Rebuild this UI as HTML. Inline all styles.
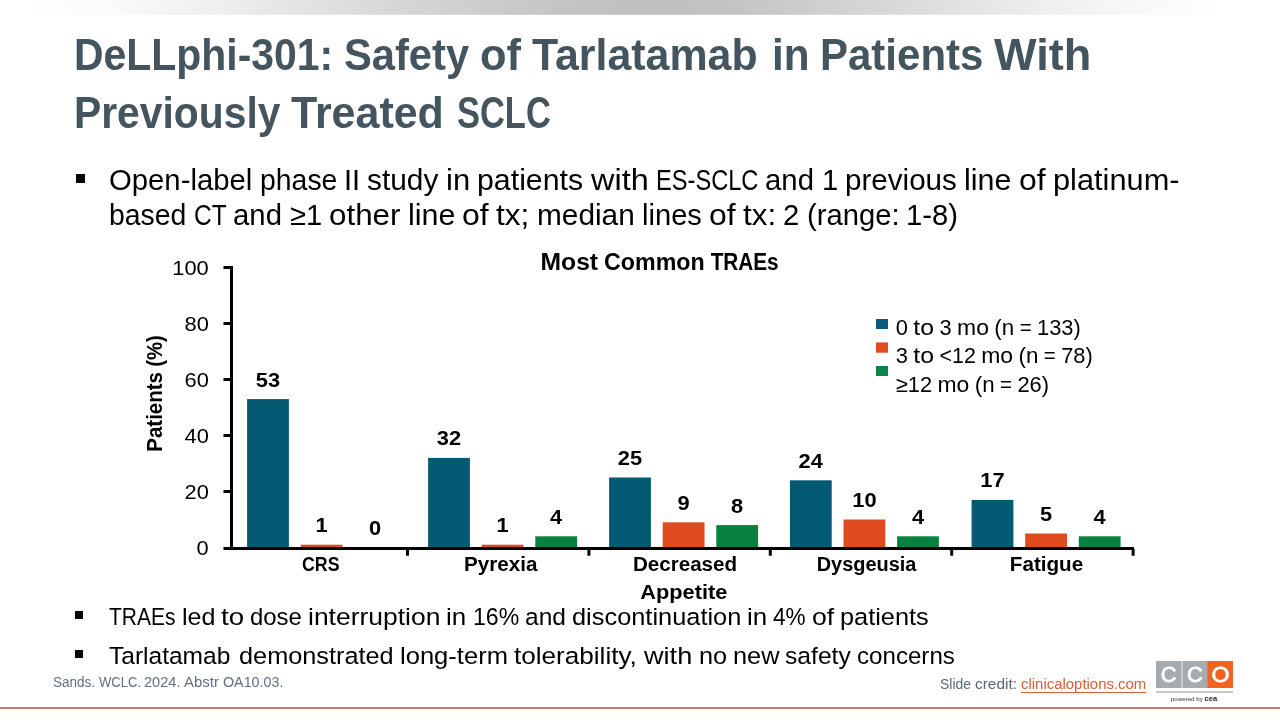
<!DOCTYPE html>
<html lang="en"><head><meta charset="utf-8">
<title>DeLLphi-301: Safety of Tarlatamab in Patients With Previously Treated SCLC</title>
<style>
html,body{margin:0;padding:0;background:#fff;}
body{width:1280px;height:720px;overflow:hidden;font-family:"Liberation Sans", sans-serif;color:#000;}
#slide{position:relative;width:1280px;height:720px;overflow:hidden;background:#fff;}
.topbar{position:absolute;left:0;top:0;width:1280px;height:14px;background:linear-gradient(90deg,#fff 0,#fff 1.6%,#fbfbfb 8%,#f0f0f0 16%,#d7d7d7 31%,#c4c4c4 44%,#c0c0c0 50%,#c2c2c2 56%,#d9d9d9 70%,#e8e8e8 78%,#f5f5f5 86%,#fff 95.5%,#fff 100%);}
.topbar:after{content:"";position:absolute;left:0;top:14px;width:1280px;height:1px;background:inherit;opacity:.8;}
h1,ul,li,p,figure{margin:0;padding:0;list-style:none;font-weight:normal;}
.t{position:absolute;display:block;white-space:nowrap;}
.w{display:inline-block;white-space:pre;vertical-align:baseline;}
.g{display:inline-block;transform-origin:0 50%;}
.bul{position:absolute;background:#000;display:block;}
svg{position:absolute;left:0;top:0;}
svg text{font-family:"Liberation Sans", sans-serif;white-space:pre;}
a{color:#d4603c;text-decoration:underline;text-decoration-thickness:1px;text-underline-offset:3px;text-decoration-skip-ink:none;}
.rule{position:absolute;left:0;top:707px;width:1280px;height:2px;background:#c8806d;}
</style></head><body>
<div id="slide">
<div class="topbar"></div>
<h1><span class="t" style="left:74.00px;top:30.00px;font-size:44.16px;line-height:49px;height:49px;font-weight:700;color:#44555f;"><span class="w" style="width:270.09px"><span class="g" style="transform:scaleX(0.9269)">DeLLphi-301:</span> </span><span class="w" style="width:135.97px"><span class="g" style="transform:scaleX(0.9439)">Safety</span> </span><span class="w" style="width:51.84px"><span class="g" style="transform:scaleX(0.9835)">of</span> </span><span class="w" style="width:239.69px"><span class="g" style="transform:scaleX(0.9713)">Tarlatamab</span> </span><span class="w" style="width:48.41px"><span class="g" style="transform:scaleX(0.9566)">in</span> </span><span class="w" style="width:174.23px"><span class="g" style="transform:scaleX(0.9512)">Patients</span> </span><span class="w" style="width:97.69px"><span class="g" style="transform:scaleX(1.0216)">With</span></span></span>
<span class="t" style="left:74.00px;top:88.00px;font-size:44.16px;line-height:49px;height:49px;font-weight:700;color:#44555f;"><span class="w" style="width:217.36px"><span class="g" style="transform:scaleX(0.9246)">Previously</span> </span><span class="w" style="width:166.11px"><span class="g" style="transform:scaleX(0.9733)">Treated</span> </span><span class="w" style="width:93.80px"><span class="g" style="transform:scaleX(0.7803)">SCLC</span></span></span></h1>
<ul>
<li><i class="bul" style="left:76px;top:174px;width:9px;height:9px"></i><span class="t" style="left:109.00px;top:163.00px;font-size:29.44px;line-height:33px;height:33px;"><span class="w" style="width:150.52px"><span class="g" style="transform:scaleX(0.9949)">Open-label</span> </span><span class="w" style="width:84.62px"><span class="g" style="transform:scaleX(0.9647)">phase</span> </span><span class="w" style="width:23.36px"><span class="g" style="transform:scaleX(0.9857)">II</span> </span><span class="w" style="width:78.58px"><span class="g" style="transform:scaleX(1.0138)">study</span> </span><span class="w" style="width:31.39px"><span class="g" style="transform:scaleX(1.0539)">in</span> </span><span class="w" style="width:113.41px"><span class="g" style="transform:scaleX(1.0297)">patients</span> </span><span class="w" style="width:64.98px"><span class="g" style="transform:scaleX(1.1030)">with</span> </span><span class="w" style="width:109.64px"><span class="g" style="transform:scaleX(0.8025)">ES-SCLC</span> </span><span class="w" style="width:56.19px"><span class="g" style="transform:scaleX(0.9965)">and</span> </span><span class="w" style="width:23.45px"><span class="g" style="transform:scaleX(0.9905)">1</span> </span><span class="w" style="width:119.12px"><span class="g" style="transform:scaleX(1.0055)">previous</span> </span><span class="w" style="width:54.66px"><span class="g" style="transform:scaleX(1.0348)">line</span> </span><span class="w" style="width:33.88px"><span class="g" style="transform:scaleX(1.0846)">of</span> </span><span class="w" style="width:126.53px"><span class="g" style="transform:scaleX(1.0450)">platinum-</span></span></span>
<span class="t" style="left:109.00px;top:197.61px;font-size:29.44px;line-height:33px;height:33px;"><span class="w" style="width:84.62px"><span class="g" style="transform:scaleX(0.9647)">based</span> </span><span class="w" style="width:39.89px"><span class="g" style="transform:scaleX(0.8320)">CT</span> </span><span class="w" style="width:56.19px"><span class="g" style="transform:scaleX(0.9965)">and</span> </span><span class="w" style="width:39.39px"><span class="g" style="transform:scaleX(0.9885)">≥1</span> </span><span class="w" style="width:78.72px"><span class="g" style="transform:scaleX(1.0652)">other</span> </span><span class="w" style="width:54.66px"><span class="g" style="transform:scaleX(1.0348)">line</span> </span><span class="w" style="width:33.88px"><span class="g" style="transform:scaleX(1.0846)">of</span> </span><span class="w" style="width:40.38px"><span class="g" style="transform:scaleX(1.0664)">tx;</span> </span><span class="w" style="width:105.02px"><span class="g" style="transform:scaleX(1.0126)">median</span> </span><span class="w" style="width:67.17px"><span class="g" style="transform:scaleX(0.9899)">lines</span> </span><span class="w" style="width:33.88px"><span class="g" style="transform:scaleX(1.0846)">of</span> </span><span class="w" style="width:40.38px"><span class="g" style="transform:scaleX(1.0664)">tx:</span> </span><span class="w" style="width:23.45px"><span class="g" style="transform:scaleX(0.9905)">2</span> </span><span class="w" style="width:99.78px"><span class="g" style="transform:scaleX(0.9921)">(range:</span> </span><span class="w" style="width:51.94px"><span class="g" style="transform:scaleX(0.9919)">1-8)</span></span></span></li>
</ul>
<figure>
<svg width="1280" height="720" viewBox="0 0 1280 720" xmlns="http://www.w3.org/2000/svg" role="img" aria-label="Most Common TRAEs bar chart">
<rect x="247.10" y="399.10" width="41.8" height="148.40" fill="#045973"/>
<rect x="300.70" y="544.70" width="41.8" height="2.80" fill="#df4a1f"/>
<rect x="428.10" y="457.90" width="41.8" height="89.60" fill="#045973"/>
<rect x="481.70" y="544.70" width="41.8" height="2.80" fill="#df4a1f"/>
<rect x="535.30" y="536.30" width="41.8" height="11.20" fill="#07813f"/>
<rect x="609.10" y="477.50" width="41.8" height="70.00" fill="#045973"/>
<rect x="662.70" y="522.30" width="41.8" height="25.20" fill="#df4a1f"/>
<rect x="716.30" y="525.10" width="41.8" height="22.40" fill="#07813f"/>
<rect x="789.90" y="480.30" width="41.8" height="67.20" fill="#045973"/>
<rect x="843.50" y="519.50" width="41.8" height="28.00" fill="#df4a1f"/>
<rect x="897.10" y="536.30" width="41.8" height="11.20" fill="#07813f"/>
<rect x="971.60" y="499.90" width="41.8" height="47.60" fill="#045973"/>
<rect x="1025.20" y="533.50" width="41.8" height="14.00" fill="#df4a1f"/>
<rect x="1078.80" y="536.30" width="41.8" height="11.20" fill="#07813f"/>
<rect x="230" y="266" width="3" height="284" fill="#000"/>
<rect x="223.5" y="547" width="910.5" height="3" fill="#000"/>
<rect x="223.5" y="490.00" width="8" height="3" fill="#000"/>
<rect x="223.5" y="434.00" width="8" height="3" fill="#000"/>
<rect x="223.5" y="378.00" width="8" height="3" fill="#000"/>
<rect x="223.5" y="322.00" width="8" height="3" fill="#000"/>
<rect x="223.5" y="266.00" width="8" height="3" fill="#000"/>
<rect x="406.00" y="549" width="3" height="6.7" fill="#000"/>
<rect x="587.40" y="549" width="3" height="6.7" fill="#000"/>
<rect x="768.80" y="549" width="3" height="6.7" fill="#000"/>
<rect x="950.20" y="549" width="3" height="6.7" fill="#000"/>
<rect x="1131.60" y="549" width="3" height="6.7" fill="#000"/>
<text x="196.64" y="554.75" font-size="20.42" textLength="12.16" lengthAdjust="spacingAndGlyphs">0</text>
<text x="184.48" y="498.75" font-size="20.42" textLength="24.32" lengthAdjust="spacingAndGlyphs">20</text>
<text x="184.48" y="442.75" font-size="20.42" textLength="24.32" lengthAdjust="spacingAndGlyphs">40</text>
<text x="184.48" y="386.75" font-size="20.42" textLength="24.32" lengthAdjust="spacingAndGlyphs">60</text>
<text x="184.48" y="330.75" font-size="20.42" textLength="24.32" lengthAdjust="spacingAndGlyphs">80</text>
<text x="172.31" y="274.75" font-size="20.42" textLength="36.49" lengthAdjust="spacingAndGlyphs">100</text>
<text y="270.00" font-size="23.92" font-weight="700"><tspan x="540.54" textLength="57.54" lengthAdjust="spacingAndGlyphs">Most</tspan> <tspan x="604.10" textLength="100.51" lengthAdjust="spacingAndGlyphs">Common</tspan> <tspan x="710.64" textLength="68.04" lengthAdjust="spacingAndGlyphs">TRAEs</tspan></text>
<text y="393.40" font-size="21.53" font-weight="700" transform="rotate(-90 161.70 393.40)"><tspan x="103.43" textLength="79.62" lengthAdjust="spacingAndGlyphs">Patients</tspan> <tspan x="188.34" textLength="31.64" lengthAdjust="spacingAndGlyphs">(%)</tspan></text>
<text x="302.02" y="570.60" font-size="20.42" font-weight="700" textLength="37.55" lengthAdjust="spacingAndGlyphs">CRS</text>
<text x="464.05" y="570.60" font-size="20.42" font-weight="700" textLength="73.50" lengthAdjust="spacingAndGlyphs">Pyrexia</text>
<text x="632.90" y="570.60" font-size="20.42" font-weight="700" textLength="104.21" lengthAdjust="spacingAndGlyphs">Decreased</text>
<text x="640.32" y="599.40" font-size="20.42" font-weight="700" textLength="86.96" lengthAdjust="spacingAndGlyphs">Appetite</text>
<text x="816.66" y="570.60" font-size="20.42" font-weight="700" textLength="99.68" lengthAdjust="spacingAndGlyphs">Dysgeusia</text>
<text x="1009.81" y="570.60" font-size="20.42" font-weight="700" textLength="73.38" lengthAdjust="spacingAndGlyphs">Fatigue</text>
<text x="255.84" y="386.60" font-size="20.42" font-weight="700" textLength="24.32" lengthAdjust="spacingAndGlyphs">53</text>
<text x="315.52" y="532.20" font-size="20.42" font-weight="700" textLength="12.16" lengthAdjust="spacingAndGlyphs">1</text>
<text x="369.12" y="535.00" font-size="20.42" font-weight="700" textLength="12.16" lengthAdjust="spacingAndGlyphs">0</text>
<text x="436.84" y="445.40" font-size="20.42" font-weight="700" textLength="24.32" lengthAdjust="spacingAndGlyphs">32</text>
<text x="496.52" y="532.20" font-size="20.42" font-weight="700" textLength="12.16" lengthAdjust="spacingAndGlyphs">1</text>
<text x="550.12" y="523.80" font-size="20.42" font-weight="700" textLength="12.16" lengthAdjust="spacingAndGlyphs">4</text>
<text x="617.84" y="465.00" font-size="20.42" font-weight="700" textLength="24.32" lengthAdjust="spacingAndGlyphs">25</text>
<text x="677.52" y="509.80" font-size="20.42" font-weight="700" textLength="12.16" lengthAdjust="spacingAndGlyphs">9</text>
<text x="731.12" y="512.60" font-size="20.42" font-weight="700" textLength="12.16" lengthAdjust="spacingAndGlyphs">8</text>
<text x="798.64" y="467.80" font-size="20.42" font-weight="700" textLength="24.32" lengthAdjust="spacingAndGlyphs">24</text>
<text x="852.24" y="507.00" font-size="20.42" font-weight="700" textLength="24.32" lengthAdjust="spacingAndGlyphs">10</text>
<text x="911.92" y="523.80" font-size="20.42" font-weight="700" textLength="12.16" lengthAdjust="spacingAndGlyphs">4</text>
<text x="980.34" y="487.40" font-size="20.42" font-weight="700" textLength="24.32" lengthAdjust="spacingAndGlyphs">17</text>
<text x="1040.02" y="521.00" font-size="20.42" font-weight="700" textLength="12.16" lengthAdjust="spacingAndGlyphs">5</text>
<text x="1093.62" y="523.80" font-size="20.42" font-weight="700" textLength="12.16" lengthAdjust="spacingAndGlyphs">4</text>
<rect x="876" y="319" width="12" height="10" fill="#0b5a80"/>
<rect x="876" y="342.4" width="12" height="10.3" fill="#e24c23"/>
<rect x="876" y="366" width="12" height="10" fill="#0b8549"/>
<text y="334.75" font-size="22.08"><tspan x="895.80" textLength="12.17" lengthAdjust="spacingAndGlyphs">0</tspan> <tspan x="913.39" textLength="20.70" lengthAdjust="spacingAndGlyphs">to</tspan> <tspan x="939.52" textLength="12.17" lengthAdjust="spacingAndGlyphs">3</tspan> <tspan x="957.11" textLength="31.83" lengthAdjust="spacingAndGlyphs">mo</tspan> <tspan x="994.36" textLength="19.89" lengthAdjust="spacingAndGlyphs">(n</tspan> <tspan x="1019.67" textLength="11.95" lengthAdjust="spacingAndGlyphs">=</tspan> <tspan x="1037.05" textLength="43.78" lengthAdjust="spacingAndGlyphs">133)</tspan></text>
<text y="363.40" font-size="22.08"><tspan x="895.80" textLength="12.17" lengthAdjust="spacingAndGlyphs">3</tspan> <tspan x="913.39" textLength="20.70" lengthAdjust="spacingAndGlyphs">to</tspan> <tspan x="939.52" textLength="36.28" lengthAdjust="spacingAndGlyphs">&lt;12</tspan> <tspan x="981.22" textLength="31.83" lengthAdjust="spacingAndGlyphs">mo</tspan> <tspan x="1018.47" textLength="19.89" lengthAdjust="spacingAndGlyphs">(n</tspan> <tspan x="1043.78" textLength="11.95" lengthAdjust="spacingAndGlyphs">=</tspan> <tspan x="1061.17" textLength="31.61" lengthAdjust="spacingAndGlyphs">78)</tspan></text>
<text y="392.10" font-size="22.08"><tspan x="895.80" textLength="36.28" lengthAdjust="spacingAndGlyphs">≥12</tspan> <tspan x="937.52" textLength="31.83" lengthAdjust="spacingAndGlyphs">mo</tspan> <tspan x="974.77" textLength="19.89" lengthAdjust="spacingAndGlyphs">(n</tspan> <tspan x="1000.08" textLength="11.95" lengthAdjust="spacingAndGlyphs">=</tspan> <tspan x="1017.46" textLength="31.61" lengthAdjust="spacingAndGlyphs">26)</tspan></text>
<rect x="1156" y="661" width="52" height="27" fill="#a5abae"/>
<rect x="1181" y="661" width="2" height="27" fill="#c6cbcd"/>
<rect x="1207.5" y="661" width="25.5" height="27" fill="#f26322"/>
<rect x="1156" y="691" width="77" height="2" fill="#c5c9cb"/>
<text x="1168.60" y="682.30" font-size="22.82" textLength="15.80" lengthAdjust="spacingAndGlyphs" text-anchor="middle" fill="#fff" stroke="#fff" stroke-width="0.8">C</text>
<text x="1194.80" y="682.30" font-size="22.82" textLength="15.80" lengthAdjust="spacingAndGlyphs" text-anchor="middle" fill="#fff" stroke="#fff" stroke-width="0.8">C</text>
<text x="1220.40" y="682.30" font-size="22.82" textLength="18.00" lengthAdjust="spacingAndGlyphs" text-anchor="middle" fill="#fff" stroke="#fff" stroke-width="0.8">O</text>
<text x="1170.80" y="701.40" font-size="5.87" textLength="32.00" lengthAdjust="spacingAndGlyphs" fill="#333">powered by</text>
<text x="1204.60" y="701.40" font-size="7.39" textLength="12.60" lengthAdjust="spacingAndGlyphs" font-weight="700" fill="#222">cea</text>
</svg>
</figure>
<ul>
<li><i class="bul" style="left:75px;top:611px;width:8px;height:8px"></i><span class="t" style="left:109.00px;top:602.75px;font-size:24.54px;line-height:27px;height:27px;"><span class="w" style="width:72.52px"><span class="g" style="transform:scaleX(0.8562)">TRAEs</span> </span><span class="w" style="width:39.51px"><span class="g" style="transform:scaleX(1.0228)">led</span> </span><span class="w" style="width:29.06px"><span class="g" style="transform:scaleX(1.1270)">to</span> </span><span class="w" style="width:57.91px"><span class="g" style="transform:scaleX(0.9757)">dose</span> </span><span class="w" style="width:138.35px"><span class="g" style="transform:scaleX(1.0788)">interruption</span> </span><span class="w" style="width:26.20px"><span class="g" style="transform:scaleX(1.0563)">in</span> </span><span class="w" style="width:52.22px"><span class="g" style="transform:scaleX(0.9409)">16%</span> </span><span class="w" style="width:46.90px"><span class="g" style="transform:scaleX(0.9991)">and</span> </span><span class="w" style="width:175.23px"><span class="g" style="transform:scaleX(1.0345)">discontinuation</span> </span><span class="w" style="width:26.21px"><span class="g" style="transform:scaleX(1.0563)">in</span> </span><span class="w" style="width:38.68px"><span class="g" style="transform:scaleX(0.9213)">4%</span> </span><span class="w" style="width:28.28px"><span class="g" style="transform:scaleX(1.0879)">of</span> </span><span class="w" style="width:88.63px"><span class="g" style="transform:scaleX(1.0323)">patients</span></span></span></li>
<li><i class="bul" style="left:75px;top:650px;width:8px;height:8px"></i><span class="t" style="left:109.00px;top:641.75px;font-size:24.54px;line-height:27px;height:27px;"><span class="w" style="width:130.02px"><span class="g" style="transform:scaleX(0.9998)">Tarlatamab</span> </span><span class="w" style="width:160.62px"><span class="g" style="transform:scaleX(1.0311)">demonstrated</span> </span><span class="w" style="width:113.94px"><span class="g" style="transform:scaleX(1.0421)">long-term</span> </span><span class="w" style="width:130.74px"><span class="g" style="transform:scaleX(1.0642)">tolerability,</span> </span><span class="w" style="width:54.26px"><span class="g" style="transform:scaleX(1.1056)">with</span> </span><span class="w" style="width:34.17px"><span class="g" style="transform:scaleX(1.0309)">no</span> </span><span class="w" style="width:52.46px"><span class="g" style="transform:scaleX(1.0321)">new</span> </span><span class="w" style="width:71.77px"><span class="g" style="transform:scaleX(1.0048)">safety</span> </span><span class="w" style="width:97.81px"><span class="g" style="transform:scaleX(0.9832)">concerns</span></span></span></li>
</ul>
<p class="t" style="left:52.80px;top:673.91px;font-size:14.72px;line-height:16px;height:16px;color:#62707a;"><span class="w" style="width:45.75px"><span class="g" style="transform:scaleX(0.9192)">Sands.</span> </span><span class="w" style="width:45.67px"><span class="g" style="transform:scaleX(0.8867)">WCLC.</span> </span><span class="w" style="width:40.09px"><span class="g" style="transform:scaleX(0.9902)">2024.</span> </span><span class="w" style="width:38.48px"><span class="g" style="transform:scaleX(1.0146)">Abstr</span> </span><span class="w" style="width:60.36px"><span class="g" style="transform:scaleX(0.9706)">OA10.03.</span></span></p>
<p class="t" style="left:940.20px;top:675.50px;font-size:14.72px;line-height:16px;height:16px;color:#596873;"><span class="w" style="width:34.69px"><span class="g" style="transform:scaleX(0.9489)">Slide</span> </span><span class="w" style="width:45.64px"><span class="g" style="transform:scaleX(1.0483)">credit:</span> </span><span class="w" style="width:125.28px"><span class="g" style="transform:scaleX(1.0143)"><a>clinicaloptions.com</a></span></span></p>
<div class="rule"></div>
</div>
</body></html>
